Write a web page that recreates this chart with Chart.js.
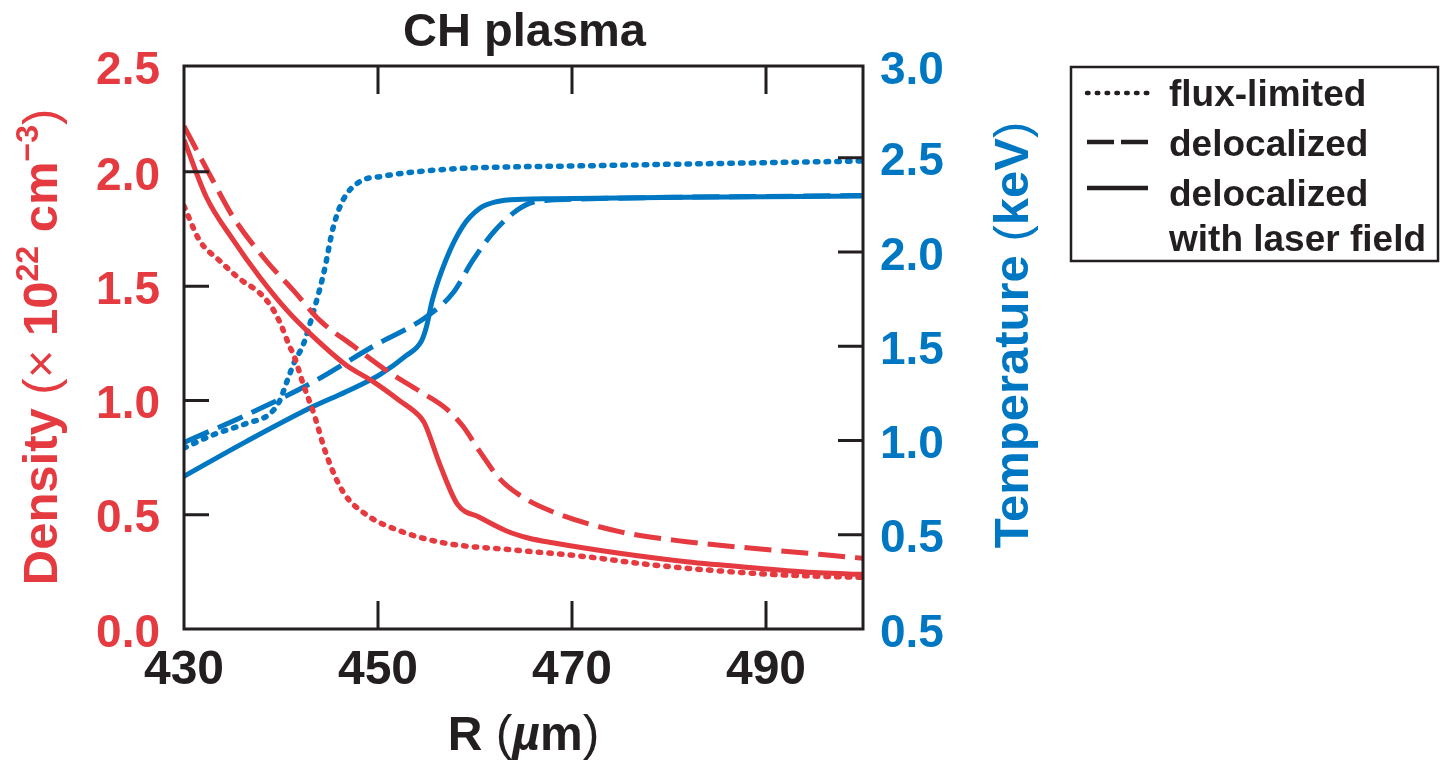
<!DOCTYPE html>
<html>
<head>
<meta charset="utf-8">
<script src="https://cdn.jsdelivr.net/npm/chart.js@4.4.1/dist/chart.umd.min.js"></script>
<style>
  html, body { margin: 0; padding: 0; background: #fff; }
</style>
</head>
<body>
<canvas id="plasma" width="1441" height="766"></canvas>
<script>
const RED = "#e43a40";
const BLUE = "#0077c2";
const INK = "#231f20";
const FONT = "'Liberation Sans', Arial, Helvetica, sans-serif";

// radius in um, density in 1e22 cm^-3
const rDensFlux = [430, 431.6, 433.7, 435.8, 437.8, 439.0, 439.9, 440.9, 441.3, 442.3, 443.4, 444.7, 446.4, 448.8, 452.2, 457.0, 464.0, 471.5, 478.3, 485.2, 492.1, 500];
const densFlux = [1.85, 1.70, 1.61, 1.53, 1.47, 1.41, 1.34, 1.235, 1.20, 1.07, 0.94, 0.76, 0.60, 0.50, 0.43, 0.375, 0.346, 0.316, 0.28, 0.254, 0.236, 0.226];

const rDensDeloc = [430, 433.0, 435.1, 438.5, 441.3, 444.0, 447.4, 450.9, 454.3, 457.0, 458.7, 460.5, 462.5, 464.8, 468.0, 474.9, 481.8, 488.6, 495.5, 500];
const densDeloc = [2.20, 1.96, 1.80, 1.61, 1.48, 1.35, 1.24, 1.13, 1.04, 0.965, 0.89, 0.776, 0.659, 0.58, 0.513, 0.426, 0.382, 0.353, 0.327, 0.309];

const rDensLaser = [430, 432.3, 435.1, 437.8, 440.6, 443.3, 446.7, 449.5, 452.2, 454.3, 454.8, 456.4, 458.2, 460.5, 463.2, 465.5, 468.0, 474.9, 481.8, 488.6, 495.5, 500];
const densLaser = [2.14, 1.89, 1.70, 1.54, 1.395, 1.28, 1.155, 1.082, 1.00, 0.93, 0.90, 0.717, 0.545, 0.488, 0.43, 0.398, 0.377, 0.331, 0.294, 0.268, 0.246, 0.239];

// temperature in keV
const rTempFlux = [430, 433.0, 436.4, 438.9, 439.9, 440.6, 441.4, 442.3, 443.3, 444.4, 445.4, 446.4, 448.1, 450.2, 457.0, 465.0, 468.0, 481.8, 500];
const tempFlux = [0.96, 1.03, 1.09, 1.144, 1.215, 1.312, 1.418, 1.51, 1.675, 1.887, 2.134, 2.276, 2.373, 2.40, 2.439, 2.453, 2.455, 2.467, 2.483];

const rTempDeloc = [430, 436.4, 443.3, 449.5, 455.0, 457.7, 459.8, 461.8, 463.9, 465.6, 467.5, 470, 480, 490, 500];
const tempDeloc = [0.99, 1.135, 1.31, 1.50, 1.657, 1.781, 1.958, 2.099, 2.205, 2.258, 2.275, 2.28, 2.29, 2.295, 2.30];

const rTempLaser = [430, 436.4, 443.3, 446.7, 450.2, 452.9, 454.5, 455.0, 455.6, 457.0, 458.7, 460.5, 462.2, 464.9, 468.0, 481.8, 500];
const tempLaser = [0.81, 0.994, 1.18, 1.259, 1.35, 1.45, 1.53, 1.604, 1.745, 1.958, 2.134, 2.232, 2.267, 2.28, 2.283, 2.29, 2.297];

// axes
const R_MIN = 430, R_MAX = 500;
const DENS_TOP = 2.463, TEMP_TOP = 2.987;
const rTicks = [430, 450, 470, 490];
const rTickLabels = ["430", "450", "470", "490"];
const densTicks = [0, 0.5, 1.0, 1.5, 2.0, DENS_TOP];
const densTickLabels = ["0.0", "0.5", "1.0", "1.5", "2.0", "2.5"];
const tempTicks = [0, 0.5, 1.0, 1.5, 2.0, 2.5, TEMP_TOP];
const tempTickLabels = ["0.5", "0.5", "1.0", "1.5", "2.0", "2.5", "3.0"];

const legendItems = [
  { label: ["flux-limited"], dash: [1.5, 8.3], cap: "round" },
  { label: ["delocalized"], dash: [27, 7], cap: "butt" },
  { label: ["delocalized", "with laser field"], dash: [], cap: "butt" },
];

const pts = (xs, ys) => xs.map((x, i) => ({ x: x, y: ys[i] }));

const DOTTED = { borderDash: [2.5, 8.2], borderCapStyle: "round", borderWidth: 5.5 };
const DASHED = { borderDash: [27, 10], borderCapStyle: "butt", borderWidth: 5 };
const SOLID = { borderDash: [], borderCapStyle: "butt", borderWidth: 5 };

// draw a run of differently styled text pieces, centred on (0, 0)
function drawRuns(ctx, runs) {
  let total = 0;
  runs.forEach((r) => {
    ctx.font = r.font;
    total += ctx.measureText(r.text).width;
  });
  let x = -total / 2;
  runs.forEach((r) => {
    ctx.font = r.font;
    ctx.fillText(r.text, x, r.dy || 0);
    x += ctx.measureText(r.text).width;
  });
}

const frameAndText = {
  id: "frameAndText",
  afterDraw(chart) {
    const {
      ctx,
      chartArea: { left, right, top, bottom },
      scales: { x, y, y2 },
    } = chart;
    ctx.save();

    // frame
    ctx.strokeStyle = INK;
    ctx.lineWidth = 3;
    ctx.setLineDash([]);
    ctx.strokeRect(left, top, right - left, bottom - top);

    // inward tick marks
    ctx.beginPath();
    rTicks.slice(1).forEach((v) => {
      const px = x.getPixelForValue(v);
      ctx.moveTo(px, bottom);
      ctx.lineTo(px, bottom - 28);
      ctx.moveTo(px, top);
      ctx.lineTo(px, top + 28);
    });
    densTicks.slice(1, -1).forEach((v) => {
      const py = y.getPixelForValue(v);
      ctx.moveTo(left, py);
      ctx.lineTo(left + 25, py);
    });
    tempTicks.slice(1, -1).forEach((v) => {
      const py = y2.getPixelForValue(v);
      ctx.moveTo(right, py);
      ctx.lineTo(right - 25, py);
    });
    ctx.stroke();

    ctx.textBaseline = "alphabetic";
    ctx.textAlign = "left";

    // title
    ctx.fillStyle = INK;
    ctx.save();
    ctx.translate((left + right) / 2 + 1, 46);
    drawRuns(ctx, [{ text: "CH plasma", font: "bold 47px " + FONT }]);
    ctx.restore();

    // x axis title
    ctx.save();
    ctx.translate((left + right) / 2, 750);
    drawRuns(ctx, [
      { text: "R ", font: "bold 48px " + FONT },
      { text: "(", font: "50px " + FONT },
      { text: "\u00b5", font: "italic bold 48px " + FONT },
      { text: "m", font: "bold 48px " + FONT },
      { text: ")", font: "50px " + FONT },
    ]);
    ctx.restore();

    // density title
    ctx.fillStyle = RED;
    ctx.save();
    ctx.translate(57, 347);
    ctx.rotate(-Math.PI / 2);
    drawRuns(ctx, [
      { text: "Density ", font: "bold 49px " + FONT },
      { text: "(\u00d7 ", font: "49px " + FONT },
      { text: "10", font: "bold 49px " + FONT },
      { text: "22", font: "bold 32px " + FONT, dy: -19 },
      { text: " cm", font: "bold 49px " + FONT },
      { text: "\u22123", font: "bold 32px " + FONT, dy: -19 },
      { text: ")", font: "49px " + FONT },
    ]);
    ctx.restore();

    // temperature title
    ctx.fillStyle = BLUE;
    ctx.save();
    ctx.translate(1028, 335);
    ctx.rotate(-Math.PI / 2);
    drawRuns(ctx, [
      { text: "Temperature ", font: "bold 49px " + FONT },
      { text: "(", font: "49px " + FONT },
      { text: "keV", font: "bold 49px " + FONT },
      { text: ")", font: "49px " + FONT },
    ]);
    ctx.restore();

    // legend box
    ctx.strokeStyle = INK;
    ctx.lineWidth = 2.5;
    ctx.strokeRect(1071, 67, 367, 194);

    const sampleY = [93, 142, 188];
    const textY = [[106], [156], [206, 251]];
    ctx.fillStyle = INK;
    ctx.font = "bold 37px " + FONT;
    legendItems.forEach((item, i) => {
      ctx.beginPath();
      ctx.lineWidth = 4.5;
      ctx.lineCap = item.cap;
      ctx.setLineDash(item.dash);
      ctx.moveTo(1087, sampleY[i]);
      ctx.lineTo(1148, sampleY[i]);
      ctx.stroke();
      item.label.forEach((line, j) => {
        ctx.fillText(line, 1169, textY[i][j]);
      });
    });
    ctx.restore();
  },
};

const tickFont = { family: FONT, size: 46, weight: "bold" };

new Chart(document.getElementById("plasma"), {
  type: "line",
  data: {
    datasets: [
      { label: "flux-limited density", data: pts(rDensFlux, densFlux), borderColor: RED, yAxisID: "y", ...DOTTED },
      { label: "delocalized density", data: pts(rDensDeloc, densDeloc), borderColor: RED, yAxisID: "y", ...DASHED },
      { label: "delocalized with laser field density", data: pts(rDensLaser, densLaser), borderColor: RED, yAxisID: "y", ...SOLID },
      { label: "flux-limited temperature", data: pts(rTempFlux, tempFlux), borderColor: BLUE, yAxisID: "y2", ...DOTTED },
      { label: "delocalized temperature", data: pts(rTempDeloc, tempDeloc), borderColor: BLUE, yAxisID: "y2", ...DASHED },
      { label: "delocalized with laser field temperature", data: pts(rTempLaser, tempLaser), borderColor: BLUE, yAxisID: "y2", ...SOLID },
    ],
  },
  options: {
    responsive: false,
    animation: false,
    layout: { padding: { top: 66, left: 0, right: 0, bottom: 0 } },
    elements: {
      point: { radius: 0 },
      line: { cubicInterpolationMode: "monotone", fill: false },
    },
    plugins: {
      legend: { display: false },
      tooltip: { enabled: false },
    },
    scales: {
      x: {
        type: "linear",
        min: R_MIN,
        max: R_MAX,
        afterBuildTicks: (s) => { s.ticks = rTicks.map((v) => ({ value: v })); },
        afterFit: (s) => { s.height = 137; },
        grid: { display: false, drawTicks: false },
        border: { display: false },
        ticks: {
          autoSkip: false,
          maxRotation: 0,
          padding: 13,
          color: INK,
          font: { family: FONT, size: 48, weight: "bold" },
          callback: (v, i) => rTickLabels[i],
        },
      },
      y: {
        position: "left",
        min: 0,
        max: DENS_TOP,
        afterBuildTicks: (s) => { s.ticks = densTicks.map((v) => ({ value: v })); },
        afterFit: (s) => { s.width = 184; },
        grid: { display: false, drawTicks: false },
        border: { display: false },
        ticks: {
          autoSkip: false,
          padding: 24,
          labelOffset: 5,
          color: RED,
          font: tickFont,
          callback: (v, i) => densTickLabels[i],
        },
      },
      y2: {
        position: "right",
        min: 0,
        max: TEMP_TOP,
        afterBuildTicks: (s) => { s.ticks = tempTicks.map((v) => ({ value: v })); },
        afterFit: (s) => { s.width = 578; },
        grid: { display: false, drawTicks: false },
        border: { display: false },
        ticks: {
          autoSkip: false,
          padding: 17,
          labelOffset: 5,
          color: BLUE,
          font: tickFont,
          callback: (v, i) => tempTickLabels[i],
        },
      },
    },
  },
  plugins: [frameAndText],
});
</script>
</body>
</html>
